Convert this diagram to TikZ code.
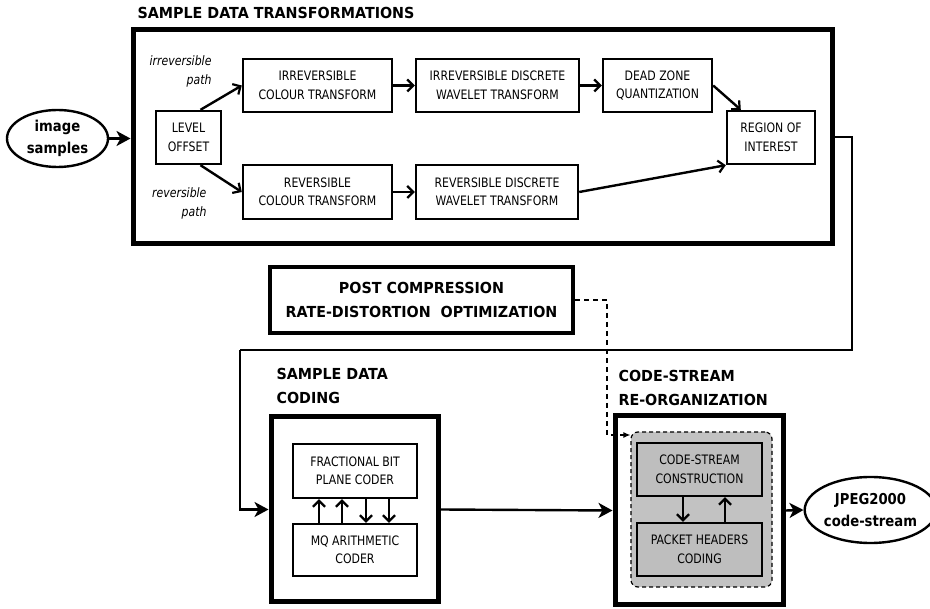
\documentclass[tikz,border=0pt]{standalone}
\usepackage{fontspec}
\setmainfont{DejaVu Sans}
\newfontfamily\bodyfont{DejaVu Sans}[FakeStretch=0.84]
\newfontfamily\headfont{DejaVu Sans}[FakeStretch=0.94]
\newfontfamily\ovalfont{DejaVu Sans}[FakeStretch=0.88]
\usetikzlibrary{arrows.meta,shapes.geometric,calc}
\definecolor{panelgray}{RGB}{194,194,194}
\definecolor{boxgray}{RGB}{190,190,190}
\begin{document}
\begin{tikzpicture}[x=1pt,y=-1pt,
  txt/.style={font=\bodyfont\fontsize{13}{18.5}\selectfont, align=center},
  hdr/.style={font=\headfont\bfseries\fontsize{15.2}{24}\selectfont, align=left},
  blk/.style={draw, line width=2.4pt, rectangle, inner sep=0pt, txt,
              minimum width=#1},
  blk/.default=100pt,
  frame/.style={draw, line width=5pt, rectangle, inner sep=0pt},
  oval/.style={draw, line width=2.4pt, ellipse, inner sep=0pt,
               font=\ovalfont\bfseries\fontsize{15}{21.5}\selectfont, align=center},
  flow/.style={line width=2.4pt, -{Straight Barb[length=6pt,width=12pt,line width=2.2pt]}},
  bigflow/.style={line width=2.4pt, -{Stealth[length=14pt,width=15pt,inset=4pt]}},
  loop/.style={line width=2pt},
  lbl/.style={font=\bodyfont\itshape\fontsize{13}{18.5}\selectfont, align=right}
]
\useasboundingbox (0,0) rectangle (930,609);

% ---- sample data transformations ----
\node[hdr, anchor=west] (thdr) at (134,13) {SAMPLE DATA TRANSFORMATIONS};
\node[frame, minimum width=699pt, minimum height=214pt] (xform) at (482.5,137) {};

\node[oval, minimum width=101pt, minimum height=57pt] (samples) at (57.5,138.5) {image\\samples};

\node[blk=65pt, minimum height=53pt] (lvl) at (188.5,137.5) {LEVEL\\OFFSET};
\node[blk=149pt, minimum height=53pt] (ict) at (317.5,85.5) {IRREVERSIBLE\\COLOUR TRANSFORM};
\node[blk=149pt, minimum height=54pt] (rct) at (317.5,192) {REVERSIBLE\\COLOUR TRANSFORM};
\node[blk=163pt, minimum height=53pt] (idwt) at (497.5,85.5) {IRREVERSIBLE DISCRETE\\WAVELET TRANSFORM};
\node[blk=162pt, minimum height=54pt] (rdwt) at (497,192) {REVERSIBLE DISCRETE\\WAVELET TRANSFORM};
\node[blk=109pt, minimum height=53pt] (dzq) at (657.5,85.5) {DEAD ZONE\\QUANTIZATION};
\node[blk=88pt, minimum height=53pt] (roi) at (771,137.5) {REGION OF\\INTEREST};

\node[lbl, anchor=east] (lirr) at (215,71.5) {irreversible\\path};
\node[lbl, anchor=east] (lrev) at (210,203.5) {reversible\\path};

\draw[bigflow] (samples) -- (xform.west |- samples);
\draw[flow] ([xshift=12pt]lvl.north) -- (ict.west);
\draw[flow] ([xshift=12pt]lvl.south) -- (rct.west);
\draw[flow] (ict) -- (idwt);
\draw[flow] (rct) -- (rdwt);
\draw[flow] (idwt) -- (dzq);
\draw[flow] (dzq.east) -- ([xshift=15pt]roi.north west);
\draw[flow] (rdwt.east) -- (roi.south west);

% ---- rate-distortion optimisation ----
\node[draw, line width=4pt, rectangle, minimum width=303pt, minimum height=66pt,
      font=\headfont\bfseries\fontsize{15.2}{24}\selectfont, align=center] (pcrd) at (421.5,300)
      {POST COMPRESSION\\RATE-DISTORTION\ \ OPTIMIZATION};

% ---- sample data coding ----
\node[hdr, anchor=west] (chdr) at (273,386) {SAMPLE DATA\\CODING};
\node[frame, minimum width=167pt, minimum height=185pt] (coding) at (354.5,509.5) {};
\node[blk=124pt, minimum height=54pt] (fbpc) at (355,471) {FRACTIONAL BIT\\PLANE CODER};
\node[blk=124pt, minimum height=52pt] (mq) at (355,550) {MQ ARITHMETIC\\CODER};
\draw[flow] ([xshift=-36pt]mq.north) -- ([xshift=-36pt]fbpc.south);
\draw[flow] ([xshift=-13pt]mq.north) -- ([xshift=-13pt]fbpc.south);
\draw[flow] ([xshift=11pt]fbpc.south) -- ([xshift=11pt]mq.north);
\draw[flow] ([xshift=34pt]fbpc.south) -- ([xshift=34pt]mq.north);

% ---- code-stream re-organisation ----
\node[hdr, anchor=west] (rhdr) at (615,388) {CODE-STREAM\\RE-ORGANIZATION};
\node[frame, minimum width=168pt, minimum height=189pt] (reorg) at (699,510.5) {};
\node[draw, dash pattern=on 4pt off 3pt, line width=1.2pt, fill=panelgray, rounded corners=7pt,
      minimum width=141pt, minimum height=155pt] (panel) at (701.5,509.5) {};
\node[blk=125pt, minimum height=53pt, fill=boxgray] (csc) at (699.5,469.5) {CODE-STREAM\\CONSTRUCTION};
\node[blk=125pt, minimum height=53pt, fill=boxgray] (phc) at (699.5,549.5) {PACKET HEADERS\\CODING};
\draw[flow] ([xshift=-16.5pt]csc.south) -- ([xshift=-16.5pt]phc.north);
\draw[flow] ([xshift=25.5pt]phc.north) -- ([xshift=25.5pt]csc.south);

\node[oval, minimum width=113pt, minimum height=66pt] (jpeg) at (870.5,510) {JPEG2000\\code-stream};

% ---- connections between stages ----
\coordinate (fbA) at (852,350);
\coordinate (fbB) at (240,350);
\draw[loop] (xform.east) -| (fbA) -- (fbB);
\draw[bigflow] (fbB) |- (coding.west);
\draw[bigflow] (coding.east) -- (reorg.west);
\draw[bigflow] (reorg.east) -- (jpeg.west);

\coordinate (dsh) at (607,435);
\draw[line width=1.2pt, dash pattern=on 5pt off 4pt, -{Latex[length=7pt,width=6pt]}]
  (pcrd.east) -| (dsh) -- (panel.west |- dsh);
\end{tikzpicture}
\end{document}
